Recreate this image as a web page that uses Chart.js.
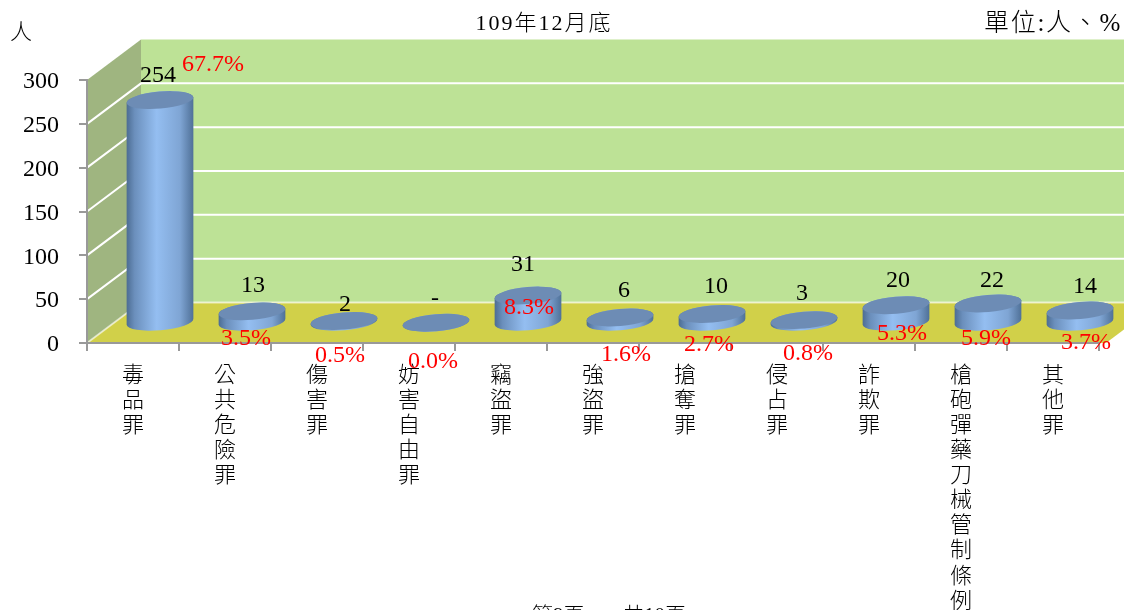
<!DOCTYPE html>
<html lang="zh-Hant">
<head>
  <meta charset="UTF-8">
  <title>109年12月底</title>
  <script src="https://cdn.jsdelivr.net/npm/chart.js"></script>
  <style>
    html, body { margin: 0; padding: 0; background: #fff; overflow: hidden; }
    canvas { display: block; }
  </style>
</head>
<body>
  <canvas id="chart" width="1124" height="610"></canvas>

  <script>
    // 資料
    const categories = ['毒品罪', '公共危險罪', '傷害罪', '妨害自由罪', '竊盜罪', '強盜罪', '搶奪罪', '侵占罪', '詐欺罪', '槍砲彈藥刀械管制條例', '其他罪'];
    const counts = [254, 13, 2, 0, 31, 6, 10, 3, 20, 22, 14];
    const percents = [67.7, 3.5, 0.5, 0.0, 8.3, 1.6, 2.7, 0.8, 5.3, 5.9, 3.7];

    // 標籤位移 (相對於圓柱頂面中心)
    const countNudge = [[-2, -25], [1, -27], [1, -17], [-1, -25], [-5, -32], [4, -28], [4, -28], [-2, -27], [2, -26], [4, -24], [5, -25]];
    const percentNudge = [[53, -36], [-6, 26], [-4, 34], [-3, 38], [1, 11], [6, 36], [-3, 30], [4, 33], [6, 27], [-2, 34], [6, 31]];

    const DEPTH_X = 54, DEPTH_Y = -40.5;
    const SERIF = '"Liberation Serif", "Noto Sans CJK TC", serif';
    const CJK = '"Noto Sans CJK TC", "Liberation Serif", serif';

    function drawText(ctx, text, x, y, font, color, align, spacing) {
      ctx.font = font;
      ctx.fillStyle = color;
      ctx.textAlign = align || 'center';
      ctx.textBaseline = 'middle';
      ctx.letterSpacing = spacing || '0px';
      ctx.fillText(text, x, y + 1);
      ctx.letterSpacing = '0px';
    }

    // 牆面、地板與格線
    const wallsPlugin = {
      id: 'walls',
      beforeDraw(chart) {
        const { ctx, chartArea: a, scales: { y } } = chart;
        const bx = a.left + DEPTH_X, bRight = a.right + DEPTH_X + 7;
        ctx.save();
        ctx.fillStyle = '#bde296';
        ctx.fillRect(bx, a.top + DEPTH_Y, bRight - bx, a.bottom - a.top);
        ctx.fillStyle = '#9fb580';
        ctx.beginPath();
        ctx.moveTo(a.left, a.top);
        ctx.lineTo(bx, a.top + DEPTH_Y);
        ctx.lineTo(bx, a.bottom + DEPTH_Y);
        ctx.lineTo(a.left, a.bottom);
        ctx.closePath();
        ctx.fill();
        ctx.fillStyle = '#d1d049';
        ctx.beginPath();
        ctx.moveTo(a.left, a.bottom);
        ctx.lineTo(a.right + 7, a.bottom);
        ctx.lineTo(bRight, a.bottom + DEPTH_Y);
        ctx.lineTo(bx, a.bottom + DEPTH_Y);
        ctx.closePath();
        ctx.fill();
        ctx.strokeStyle = '#fff';
        ctx.lineWidth = 2;
        y.ticks.forEach(t => {
          const py = y.getPixelForValue(t.value);
          if (t.value === 300) return;
          ctx.globalAlpha = t.value === 0 ? 0.6 : 1;
          ctx.beginPath();
          ctx.moveTo(a.left, py);
          ctx.lineTo(bx, py + DEPTH_Y);
          ctx.lineTo(bRight, py + DEPTH_Y);
          ctx.stroke();
        });
        ctx.restore();
      }
    };

    // 圓柱與標籤
    const cylinderPlugin = {
      id: 'cylinders',
      afterDatasetsDraw(chart) {
        const { ctx } = chart;
        const meta = chart.getDatasetMeta(0);
        const tilt = -5 * Math.PI / 180;
        const ry = 8.5;
        const tops = [];
        ctx.save();
        meta.data.forEach((bar) => {
          const rx = bar.width / 2;
          const cx = bar.x + DEPTH_X / 2;
          const topY = bar.y + DEPTH_Y / 2;
          const baseY = bar.base + DEPTH_Y / 2;
          tops.push([cx, topY]);

          const grad = ctx.createLinearGradient(cx - rx, 0, cx + rx, 0);
          grad.addColorStop(0, '#4c6c92');
          grad.addColorStop(0.12, '#6b8fbc');
          grad.addColorStop(0.45, '#94bef1');
          grad.addColorStop(0.8, '#7fa5d4');
          grad.addColorStop(1, '#4f7097');
          ctx.fillStyle = grad;
          ctx.beginPath();
          ctx.ellipse(cx, baseY, rx, ry, tilt, 0, Math.PI);
          ctx.ellipse(cx, topY, rx, ry, tilt, Math.PI, Math.PI * 2);
          ctx.closePath();
          ctx.fill();

          ctx.fillStyle = '#6d8cb5';
          ctx.beginPath();
          ctx.ellipse(cx, topY, rx, ry, tilt, 0, Math.PI * 2);
          ctx.fill();
        });

        tops.forEach(([cx, topY], i) => {
          const label = counts[i] === 0 ? '-' : String(counts[i]);
          drawText(ctx, label, cx + countNudge[i][0], topY + countNudge[i][1], '24px ' + SERIF, '#000');
          drawText(ctx, percents[i].toFixed(1) + '%', cx + percentNudge[i][0], topY + percentNudge[i][1], '24px ' + SERIF, '#f00');
        });
        ctx.restore();
      },
      afterDraw(chart) {
        const { ctx } = chart;
        ctx.save();
        drawText(ctx, '人', 21, 30, '300 22px ' + CJK, '#000');
        drawText(ctx, '109年12月底', 544, 23, '300 22px ' + SERIF, '#000', 'center', '2px');
        drawText(ctx, '單位:人、%', 1122, 23, '300 25px ' + SERIF, '#000', 'right', '1.7px');
        drawText(ctx, '第9頁，', 532, 615, '300 21px ' + SERIF, '#000', 'left');
        drawText(ctx, '共10頁', 623, 615, '300 21px ' + SERIF, '#000', 'left');
        ctx.restore();
      }
    };

    new Chart(document.getElementById('chart'), {
      type: 'bar',
      data: {
        labels: categories,
        datasets: [{
          data: counts,
          backgroundColor: 'transparent',
          barPercentage: 0.728,
          categoryPercentage: 1
        }]
      },
      options: {
        responsive: false,
        animation: false,
        layout: { padding: { top: 80, right: 25, left: 0, bottom: 0 } },
        plugins: { legend: { display: false }, tooltip: { enabled: false }, title: { display: false } },
        scales: {
          x: {
            afterFit(scale) { scale.height = 267; },
            grid: { drawOnChartArea: false, color: '#999', tickLength: 8, lineWidth: 2 },
            border: { color: '#999', width: 2 },
            ticks: {
              autoSkip: false,
              maxRotation: 0,
              minRotation: 0,
              padding: 10,
              color: '#000',
              font: { family: CJK, size: 22, weight: '300', lineHeight: 1.14 },
              callback(value) { return this.getLabelForValue(value).split(''); }
            }
          },
          y: {
            min: 0,
            max: 300,
            afterFit(scale) { scale.width = 87; },
            grid: { drawOnChartArea: false, color: '#999', tickLength: 8, lineWidth: 2 },
            border: { color: '#999', width: 2 },
            ticks: {
              stepSize: 50,
              padding: 20,
              labelOffset: 2,
              color: '#000',
              font: { family: SERIF, size: 24 }
            }
          }
        }
      },
      plugins: [wallsPlugin, cylinderPlugin]
    });
  </script>
</body>
</html>
